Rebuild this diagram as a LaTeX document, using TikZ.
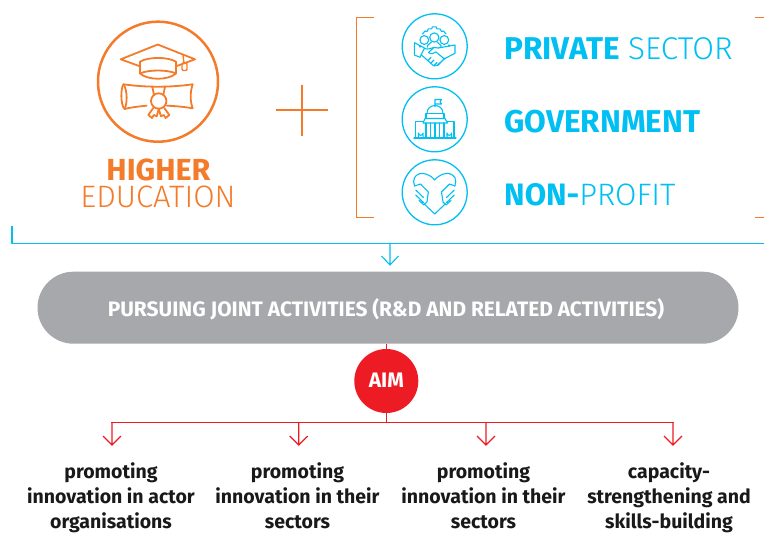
\documentclass[tikz,border=0pt]{standalone}
\usepackage{fontspec}
\setmainfont{Fira Sans}
\newfontfamily\lightf{Fira Sans Light}
\definecolor{org}{HTML}{F47B2A}
\definecolor{blu}{HTML}{00BFF3}
\definecolor{gra}{HTML}{A7A8AB}
\definecolor{rd}{HTML}{ED1C24}
\begin{document}
\begin{tikzpicture}[x=1pt,y=-1pt,
 hd/.style={font=\fontsize{31.5}{34}\selectfont,inner sep=0,anchor=base west},
 lab/.style={font=\bfseries\fontsize{19.5}{25}\selectfont,align=center,text=black!90,inner sep=0,anchor=base},
 bl/.style={blu,line width=1.1pt,line join=round,line cap=round},
 og/.style={org,line width=1.8pt,line join=round,line cap=round},
 rl/.style={rd,line width=1.2pt},
 ring/.style={circle,draw=blu,line width=1.3pt,minimum size=65pt,inner sep=0}]
\useasboundingbox (0,0) rectangle (764,533);
\node[circle,draw=org,line width=2.5pt,minimum size=120pt,inner sep=0] (he) at (158,81.7) {};
\node[inner sep=0,anchor=base,font=\bfseries\fontsize{30.5}{34}\selectfont,text=org] (h1) at (158.5,180) {HIGHER};
\node[inner sep=0,anchor=base,text=org,font=\lightf\fontsize{31}{34}\selectfont] (h2) at (158,207.5) {EDUCATION};
% mortarboard
\draw[og] (140,66.3) -- (120.7,59.3) -- (157.7,44.5) -- (195,59.3) -- (176,66.3);
\draw[og] (140,61.7) .. controls (148,56.7) and (168,56.7) .. (176,61.7) -- (176,73.5) .. controls (168,80.5) and (148,80.5) .. (140,73.5) -- cycle;
\draw[og] (140,73.5) .. controls (148,69.5) and (168,69.5) .. (176,73.5);
\draw[og,line width=1.4pt] (183,55) -- (184,63);
\draw[og,line width=1.4pt,rounded corners=1.2pt] (182,63) rectangle (187,70.5);
% diploma
\draw[og] (146.7,105.7) .. controls (138,106.5) and (130,107.5) .. (124.5,109) .. controls (120.5,105) and (120.5,88) .. (123.5,84.3) .. controls (146,87.5) and (170,87.5) .. (192.7,84.3) .. controls (190,92) and (190,101) .. (192.7,108.3) .. controls (185,107) and (176,106) .. (166.7,105.7);
\draw[og] (123.5,84.3) .. controls (127.5,90) and (127.5,104) .. (124.5,109);
\draw[og] (152.3,86.7) -- (154,95) (165,86.7) -- (163.3,95);
\draw[og] (153.3,108) -- (148.3,115) -- (152,118) -- (153.8,115) -- (156.7,116.2) -- (158.8,109);
\draw[og] (164.3,108) -- (169.3,115) -- (165.6,118) -- (163.8,115) -- (160.9,116.2) -- (158.8,109);
\draw[og] (158.7,101) circle (7.7);
% plus
\draw[org,line width=1.9pt] (276,110) -- (327.7,110) (301.7,84.7) -- (301.7,136);
% bracket
\draw[org,line width=1.3pt] (374,17.7) -- (356.3,17.7) -- (356.3,217.7) -- (374,217.7);
\draw[org,line width=1.3pt] (755,17.7) -- (764,17.7) (755,217.7) -- (764,217.7);
% rings and titles
\node[ring] (r1) at (434.7,46.3) {};
\node[ring] (r2) at (434.7,119.3) {};
\node[ring] (r3) at (434.7,192.3) {};
\node[hd,text=blu] (t1) at (504,59.5) {\textbf{PRIVATE} {\lightf SECTOR}};
\node[hd,text=blu] (t2) at (504,132.5) {\textbf{GOVERNMENT}};
\node[hd,text=blu,font=\fontsize{31}{34}\selectfont] (t3) at (504,205.5) {\textbf{NON-}{\lightf PROFIT}};
% handshake icon
\draw[bl] (424.5,48) -- (414.3,42.7) -- (414.3,55) -- (420,57.3) -- cycle;
\draw[bl] (438.3,48) -- (455,45) -- (455,53.3) -- (443.3,59.3);
\draw[bl] (424.5,48.5) .. controls (428,50) and (431,48) .. (434,47.5) -- (438.3,48);
\draw[bl] (421,54.5) -- (431,63.5) .. controls (433,66) and (436,67) .. (438,65) -- (445,58);
\draw[bl] (434,47.5) -- (428.5,52.5) .. controls (431,55) and (434,53) .. (436,52) -- (444.5,59);
\draw[bl] (428,60.5) -- (431,57.5) (431,63) -- (434,60) (434,65.5) -- (437,62.5) (437.5,65.5) -- (440,63);
\draw[bl] (434.3,37.5) circle (4.6) (424.3,40) circle (4.4) (444.3,40) circle (4.4);
\draw[bl] (427.5,47) -- (427.5,45.5) .. controls (429,43.8) and (431,43) .. (431.5,42) (441,47) -- (441,45.5) .. controls (439.5,43.8) and (437.5,43) .. (437,42);
\draw[bl] (420,47) -- (420,45.5) (449,46) -- (449,45);
\draw[bl] (422.5,34) -- (425,31) -- (427,31.5) -- (428.5,28.8) -- (431.8,28.8) -- (432.3,26.9) -- (436.3,26.9) -- (436.8,28.8) -- (440,28.8) -- (441.5,31.5) -- (443.5,31) -- (446,34);
% capitol icon
\draw[bl] (414,138) -- (456,138);
\draw[bl] (415.5,138) -- (415.5,121.7) -- (423,121.7) (454,138) -- (454,121.7) -- (446.5,121.7);
\draw[bl] (423,123) -- (447.5,123) -- (445,118.5) -- (425,118.5) -- cycle;
\draw[bl] (426,118.5) -- (426,113.3) -- (444,113.3) -- (444,118.5);
\draw[bl] (427,113.3) .. controls (427,103) and (443,103) .. (443,113.3);
\draw[bl] (426,123) -- (426,138) (430.5,123) -- (430.5,138) (435,123) -- (435,138) (439.5,123) -- (439.5,138) (444,123) -- (444,138);
\draw[bl] (435,106.5) -- (435,99.5) -- (441.5,99.5) -- (440,101.7) -- (441.5,104) -- (435,104);
\draw[bl] (418.5,138) -- (418.5,133) arc (180:360:2.3 and -2.3) -- (423.1,138);
\draw[bl] (447,138) -- (447,133) arc (180:360:2.3 and -2.3) -- (451.6,138);
% heart icon
\draw[bl] (414.5,186) .. controls (410,173) and (425,168.5) .. (434.7,180) .. controls (444.4,168.5) and (459.4,173) .. (454.9,186);
\draw[bl] (424,203.7) -- (434.7,214) -- (445.5,203.7);
\draw[bl] (414.5,186) -- (420.5,184) -- (428.3,192) -- (427,202) -- (424,204.5);
\draw[bl] (415.7,190) -- (423.5,197.5) (415.7,195) -- (423.5,202.5) (419,200.5) -- (424,205);
\draw[bl] (454.9,186) -- (449.5,184) -- (441.5,192) -- (443,202) -- (445.5,204.5);
\draw[bl] (454.3,190) -- (446.5,197.5) (454.3,195) -- (446.5,202.5) (451,200.5) -- (446,205);
% connectors
\coordinate (bs) at (12,226);
\coordinate (be) at (764,243.3);
\coordinate (bm) at (390,243.3);
\node[fill=gra,rounded corners=36pt,minimum width=701pt,minimum height=72pt,inner sep=0] (pill) at (388,307.7) {};
\node[inner sep=0,text=white,font=\bfseries\fontsize{20.9}{22}\selectfont,anchor=base] (ptext) at (386,316) {PURSUING JOINT ACTIVITIES (R\&D AND RELATED ACTIVITIES)};
\draw[bl,line cap=butt] (bs) -- (12,243.3) -- (be);
\coordinate (bt) at (390,265);
\draw[bl,line cap=butt] (bm) -- (bt) (381.5,256) -- (bt) -- (398.5,256);
\node[circle,fill=rd,minimum size=64pt,inner sep=0] (aim) at (386.3,381) {};
\node[inner sep=0,text=white,font=\bfseries\fontsize{21}{22}\selectfont,anchor=base] (aimt) at (386.3,387) {AIM};
\coordinate (rm) at (386.7,422.3);
\draw[rl] (pill.south -| rm) -- (aim.north -| rm);
\draw[rl] (aim.south -| rm) -- (rm);
\foreach \n/\x in {a/112,b/298.7,c/486,d/673}{
 \coordinate (\n) at (\x,445);
 \draw[rl] (\x,422.3) -- (\n) (\x-9,436) -- (\n) -- (\x+9,436);
}
\draw[rl] (111.4,422.3) -- (673.6,422.3);
\node[lab] (l1) at (111,528.5) {promoting\\innovation in actor\\organisations};
\node[lab] (l2) at (297.5,528.5) {promoting\\innovation in their\\sectors};
\node[lab] (l3) at (483.5,528.5) {promoting\\innovation in their\\sectors};
\node[lab] (l4) at (669,528.5) {capacity-\\strengthening and\\skills-building};
\end{tikzpicture}
\end{document}
